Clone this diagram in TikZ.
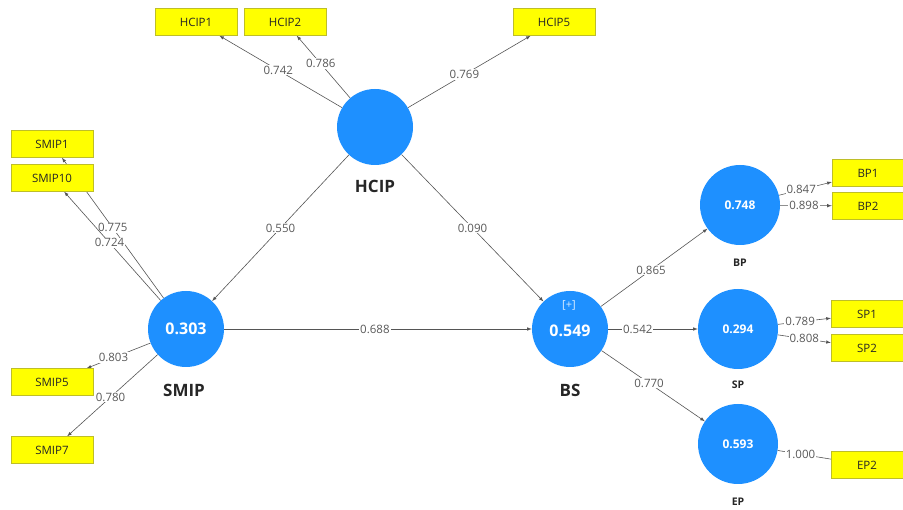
\documentclass[tikz,border=0pt]{standalone}
\usepackage{fontspec}
\setmainfont{Open Sans}
\usetikzlibrary{positioning,arrows,backgrounds}
\definecolor{lvblue}{RGB}{30,144,255}
\definecolor{indyel}{RGB}{255,255,0}
\definecolor{indedge}{RGB}{190,190,40}
\definecolor{pathgray}{RGB}{85,85,85}
\tikzset{construct/.style={circle,fill=lvblue,draw=none,text=white,font=\bfseries\fontsize{16}{18}\selectfont,minimum size=76pt,inner sep=0pt}}
\tikzset{smallconstruct/.style={construct,minimum size=80pt,font=\bfseries\fontsize{12}{14}\selectfont}}
\tikzset{indicator/.style={rectangle,fill=indyel,draw=indedge,thin,minimum width=82pt,minimum height=27pt,inner sep=0pt,font=\fontsize{11.5}{13}\selectfont,text=black!85}}
\tikzset{lvname/.style={font=\bfseries\fontsize{17}{19}\selectfont,text=black!85}}
\tikzset{smallname/.style={font=\bfseries\fontsize{10.5}{12}\selectfont,text=black!85}}
\tikzset{path/.style={-latex,pathgray,semithick}}
\tikzset{coef/.style={fill=white,inner sep=1pt,font=\fontsize{11.5}{13}\selectfont,text=black!65}}

\begin{document}
\begin{tikzpicture}[x=1pt,y=-1pt]
  \useasboundingbox (0,0) rectangle (903,510);
  % constructs
  \node[construct] (hcip) at (375,127) {};
  \node[construct] (smip) at (186,329) {0.303};
  \node[construct] (bs) at (570,329) {};
  \node[smallconstruct] (bp) at (740,205) {0.748};
  \node[smallconstruct] (sp) at (738,329) {0.294};
  \node[smallconstruct] (ep) at (738,444) {0.593};
  \node[text=white!85!lvblue,font=\fontsize{11}{12}\selectfont] (bsplus) at (569,305) {[+]};
  \node[text=white,font=\bfseries\fontsize{16}{18}\selectfont] (bsval) at (570,331) {0.549};
  \node[lvname] (hciplbl) at (375,186) {HCIP};
  \node[lvname] (smiplbl) at (184,390) {SMIP};
  \node[lvname] (bslbl) at (570,390) {BS};
  \node[smallname] (bplbl) at (740,263) {BP};
  \node[smallname] (splbl) at (738,385) {SP};
  \node[smallname] (eplbl) at (738,502) {EP};
  % indicators
  \node[indicator] (hcip1) at (196,22) {HCIP1};
  \node[indicator] (hcip2) at (285,22) {HCIP2};
  \node[indicator] (hcip5) at (554,22) {HCIP5};
  \node[indicator] (smip1) at (52,144) {SMIP1};
  \node[indicator] (smip10) at (52,178) {SMIP10};
  \node[indicator] (smip5) at (52,382) {SMIP5};
  \node[indicator] (smip7) at (52,450) {SMIP7};
  \node[indicator,minimum width=72pt] (bp1) at (868,173) {BP1};
  \node[indicator,minimum width=72pt] (bp2) at (868,206) {BP2};
  \node[indicator,minimum width=72pt] (sp1) at (867,314) {SP1};
  \node[indicator,minimum width=72pt] (sp2) at (867,348) {SP2};
  \node[indicator,minimum width=72pt] (ep2) at (867,465) {EP2};

  \begin{pgfonlayer}{background}
  % outer loadings
  \draw[path] (hcip) -- node[coef,pos=.52] {0.742} (hcip1);
  \draw[path] (hcip) -- node[coef,pos=.55] {0.786} (hcip2);
  \draw[path] (hcip) -- node[coef,pos=.46] {0.769} (hcip5);
  \draw[path] (smip) -- node[coef,pos=.50] {0.775} (smip1);
  \draw[path] (smip) -- node[coef,pos=.53] {0.724} (smip10);
  \draw[path] (smip) -- node[coef,pos=.58] {0.803} (smip5);
  \draw[path] (smip) -- node[coef,pos=.52] {0.780} (smip7);
  \draw[path] (bp) -- node[coef,pos=.42] {0.847} (bp1);
  \draw[path] (bp) -- node[coef,pos=.46] {0.898} (bp2);
  \draw[path] (sp) -- node[coef,pos=.42] {0.789} (sp1);
  \draw[path] (sp) -- node[coef,pos=.50] {0.808} (sp2);
  \draw[path,-] (ep) -- node[coef,pos=.43] {1.000} (ep2);
  % inner model
  \draw[path] (hcip) -- node[coef] {0.550} (smip);
  \draw[path] (hcip) -- node[coef] {0.090} (bs);
  \draw[path] (smip) -- node[coef,pos=.49] {0.688} (bs);
  \draw[path] (bs) -- node[coef,pos=.47] {0.865} (bp);
  \draw[path] (bs) -- node[coef,pos=.33] {0.542} (sp);
  \draw[path] (bs) -- node[coef,pos=.46] {0.770} (ep);
  \end{pgfonlayer}
\end{tikzpicture}
\end{document}
